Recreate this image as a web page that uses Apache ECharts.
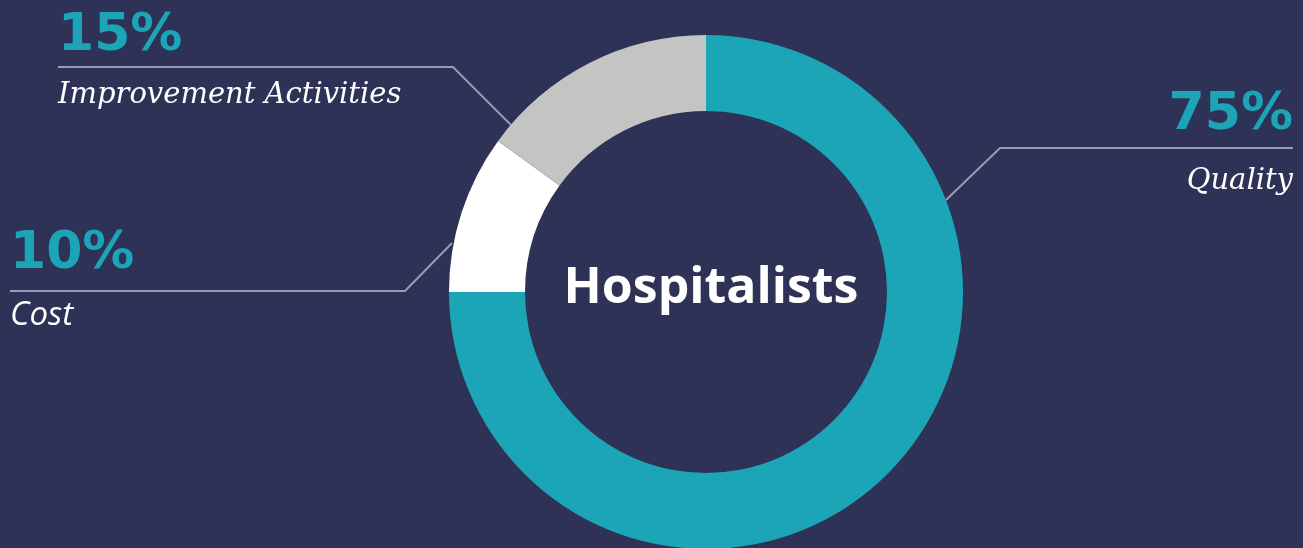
<!DOCTYPE html>
<html><head><meta charset="utf-8">
<script src="https://cdn.jsdelivr.net/npm/echarts@6/dist/echarts.min.js"></script>
<style>html,body{margin:0;padding:0;background:#2D3256;}#c{width:1303px;height:548px;}</style>
</head><body><div id="c"></div>
<script>
const categories = ['Quality', 'Cost', 'Improvement Activities'];
const values = [75, 10, 15];
const pctLabels = ['75%', '10%', '15%'];
const centerTitle = 'Hospitalists';

const colors = ['#1CA5B7', '#FFFFFF', '#C4C4C2'];
const nameFonts = [
  {fontFamily:'DejaVu Serif', fontStyle:'italic', fontSize:29},
  {fontFamily:'Open Sans', fontStyle:'italic', fontSize:33},
  {fontFamily:'DejaVu Serif', fontStyle:'italic', fontSize:29}
];
// label anchor (point on the horizontal leader), line heights and leader points
const layouts = [
  {x:1293, y:148, align:'right', P:66, N:66, pts:[[946,200],[1000,148],[1293,148]]},
  {x:10, y:291, align:'left', P:50, N:74, pts:[[452,243],[405,291],[10,291]]},
  {x:58, y:67, align:'left', P:56, N:62, pts:[[515,129],[453,67],[58,67]]}
];

const chart = echarts.init(document.getElementById('c'));
const data = categories.map((n, i) => ({
  name: n, value: values[i],
  itemStyle: {color: colors[i]},
  label: {
    formatter: '{p|' + pctLabels[i] + '}\n{n|' + n + '}',
    rich: {
      p: {fontFamily:'DejaVu Sans', fontWeight:'bold', fontSize:52, color:'#1CA5B7', lineHeight:layouts[i].P, align:layouts[i].align},
      n: Object.assign({color:'#FFFFFF', lineHeight:layouts[i].N, align:layouts[i].align}, nameFonts[i])
    }
  }
}));

chart.setOption({
  backgroundColor: '#2D3256',
  title: {
    text: centerTitle, left: 706, top: 284, textAlign: 'center', textVerticalAlign: 'middle',
    textStyle: {fontFamily:'Open Sans', fontWeight:'bold', fontSize:50, color:'#FFFFFF'}
  },
  series: [{
    type: 'pie',
    center: [706, 292],
    radius: [181, 257],
    startAngle: 90,
    clockwise: true,
    silent: true,
    animation: false,
    data: data,
    label: {show: true, position: 'outside'},
    labelLine: {show: true, lineStyle: {color: '#9A9CB3', width: 2}},
    labelLayout: function (params) {
      const l = layouts[params.dataIndex];
      return {x: l.x, y: l.y, align: l.align, verticalAlign: 'middle', labelLinePoints: l.pts};
    }
  }]
});
</script></body></html>
